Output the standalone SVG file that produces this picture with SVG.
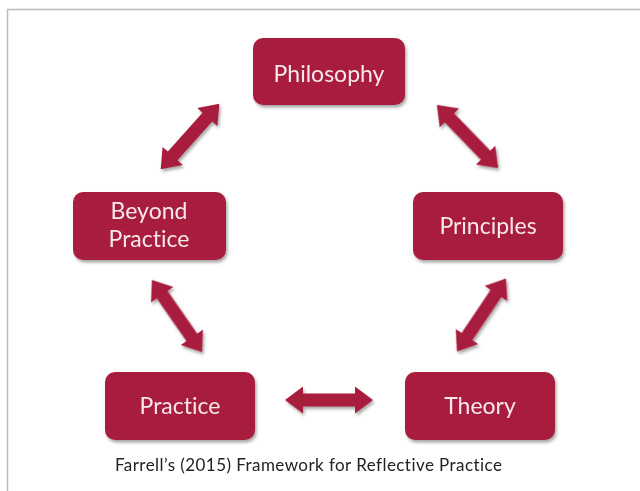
<svg xmlns="http://www.w3.org/2000/svg" xmlns:xlink="http://www.w3.org/1999/xlink" width="640" height="491" viewBox="0 0 640 491">
<style>
text{font-variant-ligatures:none;font-feature-settings:"liga" 0,"clig" 0;}
.box{fill:#A81C3E;}
.lbl{font-family:Lato,"Open Sans","Liberation Sans",sans-serif;font-size:23px;fill:#F7E8EC;text-anchor:middle;}
.cap{font-family:Lato,"Open Sans","Liberation Sans",sans-serif;font-size:17px;fill:#222;}
.arr{fill:#A81C3E;}
</style>
<defs>
<filter id="sh" x="-20%" y="-20%" width="140%" height="150%">
<feDropShadow dx="1.5" dy="2.5" stdDeviation="1.5" flood-color="#000" flood-opacity="0.35"/>
</filter>
<path id="dbl" d="M-44,0 L-26,-13.5 L-26,-6.5 L26,-6.5 L26,-13.5 L44,0 L26,13.5 L26,6.5 L-26,6.5 L-26,13.5 Z"/>
</defs>
<rect width="640" height="491" fill="#fff"/>
<path d="M7.5,491 V9.5 H640" fill="none" stroke="#BDBDBD" stroke-width="1.5"/>
<g id="connectors" class="arr" filter="url(#sh)">
<use xlink:href="#dbl" transform="translate(190,136.5) rotate(-48.2)"/>
<use xlink:href="#dbl" transform="translate(467.5,136.5) rotate(45.9)"/>
<use xlink:href="#dbl" transform="translate(177,316) rotate(55.2)"/>
<use xlink:href="#dbl" transform="translate(481.5,315) rotate(123.9)"/>
<use xlink:href="#dbl" transform="translate(329,400)"/>
</g>
<g id="philosophy"><rect class="box" x="253" y="38" width="152" height="67" rx="10" filter="url(#sh)"/><text class="lbl" x="329" y="82">Philosophy</text></g>
<g id="beyond-practice"><rect class="box" x="73" y="192" width="153" height="68" rx="10" filter="url(#sh)"/><text class="lbl" x="149" y="219">Beyond</text><text class="lbl" x="149" y="247">Practice</text></g>
<g id="principles"><rect class="box" x="413" y="192" width="150" height="68" rx="10" filter="url(#sh)"/><text class="lbl" x="488" y="234">Principles</text></g>
<g id="practice"><rect class="box" x="105" y="372" width="150" height="68" rx="10" filter="url(#sh)"/><text class="lbl" x="180" y="414">Practice</text></g>
<g id="theory"><rect class="box" x="405" y="372" width="150" height="68" rx="10" filter="url(#sh)"/><text class="lbl" x="480" y="414">Theory</text></g>
<text class="cap" x="115" y="471" textLength="387" lengthAdjust="spacing">Farrell’s (2015) Framework for Reflective Practice</text>
</svg>
